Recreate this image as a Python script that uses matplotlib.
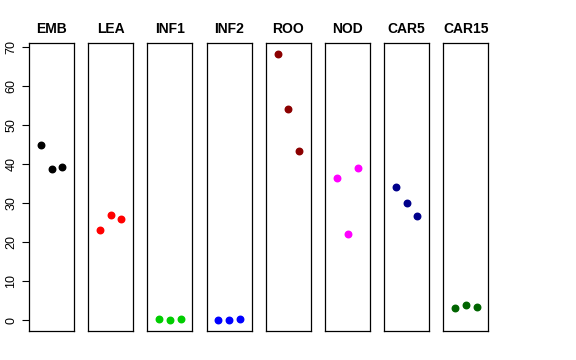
import matplotlib
matplotlib.use("Agg")
import matplotlib.pyplot as plt

plt.rcParams["font.family"] = ["Liberation Sans", "DejaVu Sans"]

# 各组织的三个重复值
tissues = ["EMB", "LEA", "INF1", "INF2", "ROO", "NOD", "CAR5", "CAR15"]
values = [
    [44.8, 38.7, 39.2],
    [23.1, 27.1, 26.0],
    [0.3, 0.2, 0.3],
    [0.2, 0.1, 0.3],
    [68.1, 54.2, 43.4],
    [36.5, 22.2, 39.0],
    [34.2, 30.0, 26.8],
    [3.3, 3.9, 3.5],
]
colors = ["black", "red", "#00CD00", "blue", "#8B0000", "magenta", "#00008B", "#006400"]
reps = [1, 2, 3]

fig = plt.figure(figsize=(5.76, 3.6), dpi=100)

W, H = 576, 360
left0, pitch, pw = 29, 59.2, 45
top, bottom = 43, 331

for i, name in enumerate(tissues):
    ax = fig.add_axes([(left0 + i * pitch) / W, (H - bottom) / H, pw / W, (bottom - top) / H])
    ax.scatter(reps, values[i], color=colors[i], s=22, zorder=3)
    ax.set_xlim(-0.1, 4.1)
    ax.set_ylim(-2.7, 71)
    ax.set_xticks([])
    ax.set_title(name, fontsize=10, fontweight="bold", pad=7)
    for sp in ax.spines.values():
        sp.set_linewidth(0.9)
        sp.set_color("black")
    if i == 0:
        ax.set_yticks(range(0, 71, 10))
        ax.tick_params(axis="y", length=5, labelsize=9, width=0.8)
        plt.setp(ax.get_yticklabels(), rotation=90, va="center")
    else:
        ax.set_yticks([])

fig.savefig("out.png", dpi=100)
